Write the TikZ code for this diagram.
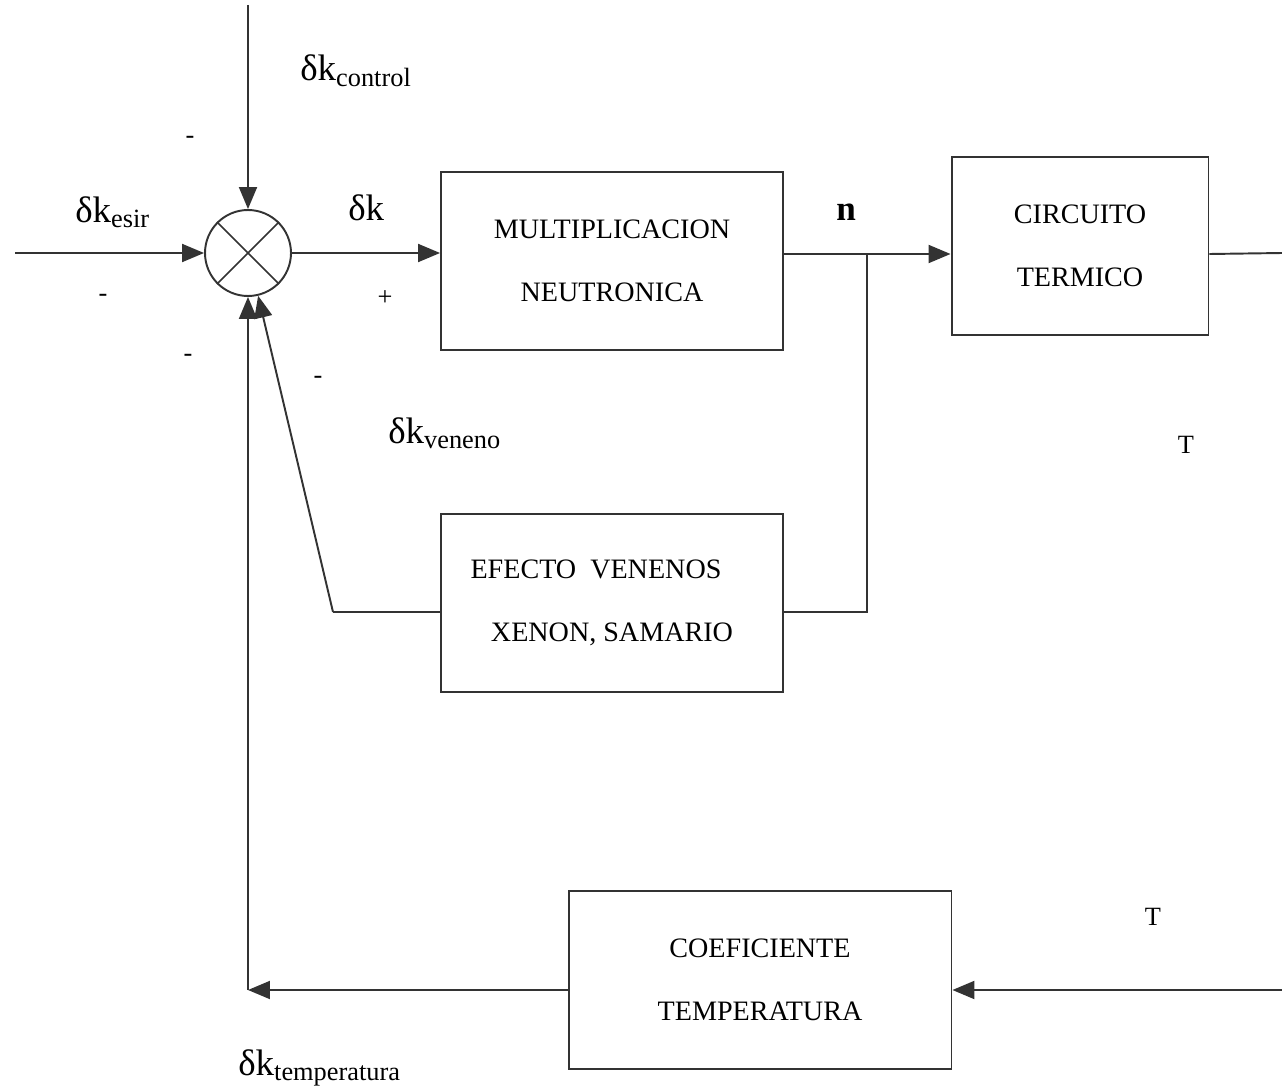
\documentclass[tikz,border=0pt]{standalone}
\usepackage{fontspec}
\setmainfont{Liberation Serif}
\usetikzlibrary{arrows.meta, positioning}

\newcommand{\deltak}[1]{{\fontsize{21}{24}\selectfont δk}\raisebox{-3pt}{\fontsize{15}{18}\selectfont #1}}

\begin{document}
\begin{tikzpicture}[
            x = 0.02cm, y = -0.02cm, % pixel units, y downwards
            > = {Triangle[length=4.4mm, width=3.6mm]}, % arrow head style
            wire/.style = {draw = black!80, line width = 1.1pt},
            auto
        ]

        \tikzstyle{block}=[
            draw = black!80,
            line width = 1.1pt,
            minimum height = 3.56cm,
            align = center,
            font = \fontsize{16}{36}\selectfont
        ]
        \tikzstyle{sign}=[font = \fontsize{15}{18}\selectfont, inner sep = 0pt]

        \useasboundingbox (0,0) rectangle (1282,1088);

        % blocks
        \node[draw = black!80, line width = 1.1pt, circle, minimum size = 1.72cm] (sum) at (248,253) {};
        \node[block, minimum width = 6.84cm] (mult) at (612,261) {MULTIPLICACION\\NEUTRONICA};
        \node[block, minimum width = 5.14cm] (circ) at (1080,246) {CIRCUITO\\TERMICO};
        \node[block, minimum width = 6.84cm] (veneno) at (612,603) {EFECTO\ \ VENENOS\hspace*{0.64cm}\\XENON, SAMARIO};
        \node[block, minimum width = 7.66cm] (coef) at (760,980) {COEFICIENTE\\TEMPERATURA};
        \draw[wire, line width = 0.9pt] (sum.north east) -- (sum.south west)
            (sum.north west) -- (sum.south east);

        % free ends and corners
        \coordinate (esirin) at (15,253);
        \coordinate (ctrlin) at (248,5);
        \coordinate (branch) at (867,254);
        \coordinate (venin) at (333,612);
        \coordinate (tout) at (1282,253);
        \coordinate (tin) at (1282,990);
        \coordinate (tcorner) at (248,990);

        % connectors
        \draw[wire, ->] (esirin) -- (sum);
        \draw[wire, ->] (ctrlin) -- (sum);
        \draw[wire, ->] (sum.east) -- (sum.east -| mult.west);
        \draw[wire] (mult.east |- branch) -- (branch);
        \draw[wire, ->] (branch) -- (branch -| circ.west);
        \draw[wire] (circ.east |- branch) -- (tout);
        \draw[wire] (branch) |- (veneno.east |- venin);
        \draw[wire] (veneno.west |- venin) -- (venin);
        \draw[wire, ->] (venin) -- (sum);
        \draw[wire, ->] (tin) -- (tin -| coef.east);
        \draw[wire, ->] (coef.west |- tin) -- (tcorner);
        \draw[wire, ->] (tcorner) -- (sum);

        % labels
        \node[anchor = base west, inner sep = 0pt] (lcontrol) at (300,81) {\deltak{control}};
        \node[anchor = base west, inner sep = 0pt] (lesir) at (75,222) {\deltak{esir}};
        \node[anchor = base west, inner sep = 0pt, font = \fontsize{21}{24}\selectfont] (ldk) at (348,220) {δk};
        \node[anchor = base west, inner sep = 0pt, font = \fontsize{20}{24}\selectfont\bfseries] (ln) at (836,220) {n};
        \node[anchor = base west, inner sep = 0pt] (lveneno) at (388,443) {\deltak{veneno}};
        \node[anchor = base west, inner sep = 0pt] (ltemp) at (238,1075) {\deltak{temperatura}};
        \node[sign] (ltc) at (1186,445) {T};
        \node[sign] (ltb) at (1153,917) {T};
        \node[sign] (plus) at (385,298) {+};
        \node[sign] (m1) at (190,140) {-};
        \node[sign] (m2) at (103,298) {-};
        \node[sign] (m3) at (188,358) {-};
        \node[sign] (m4) at (318,380) {-};
\end{tikzpicture}
\end{document}
